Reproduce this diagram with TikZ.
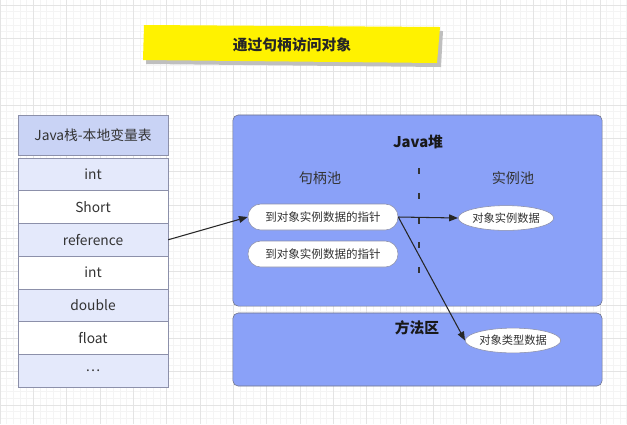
\documentclass[tikz,border=0pt]{standalone}
\usepackage{fontspec}
\setmainfont{Noto Sans CJK SC}
\usepackage{tikz}
\usetikzlibrary{positioning,arrows.meta,shapes.geometric}

\definecolor{heapblue}{RGB}{138,161,248}
\definecolor{rowblue}{RGB}{228,233,251}
\definecolor{headblue}{RGB}{201,211,245}
\definecolor{edgegray}{RGB}{140,144,170}
\definecolor{gridminor}{RGB}{244,244,244}
\definecolor{gridmajor}{RGB}{228,228,228}

\tikzset{
  stackrow/.style={draw=edgegray,minimum width=3.75cm,minimum height=0.8175cm,inner sep=0pt,
    font=\fontsize{9.8}{11}\selectfont,text=black!80},
  area/.style={draw=edgegray!80!black,fill=heapblue,rounded corners=0.13cm,inner sep=0pt,minimum width=9.225cm},
  ptrbox/.style={draw=edgegray,fill=white,rounded corners=0.32cm,minimum width=3.75cm,minimum height=0.65cm,
    inner sep=0pt,font=\fontsize{8.2}{10}\selectfont,text=black!80},
  databox/.style={ellipse,draw=edgegray,fill=white,minimum width=2.2cm,minimum height=0.62cm,inner sep=0pt,
    font=\fontsize{8}{10}\selectfont,text=black!80},
  poolname/.style={font=\fontsize{10}{12}\selectfont,text=black!80},
  areaname/.style={font=\bfseries\fontsize{10.5}{12}\selectfont,text=black!90},
  link/.style={-{Triangle[length=2.2mm,width=1.7mm]},line width=0.75pt,black!85}
}

\begin{document}
\begin{tikzpicture}[x=0.025cm,y=-0.025cm]
  \useasboundingbox (0,0) rectangle (627,424);
  % grid paper
  \fill[white] (0,0) rectangle (627,424);
  \foreach \g in {0,6.667,...,627}{
    \draw[gridminor,line width=0.4pt] (\g,0)--(\g,424);
  }
  \foreach \g in {5,11.667,...,424}{
    \draw[gridminor,line width=0.4pt] (0,\g)--(627,\g);
  }
  \foreach \g in {0,33.333,...,627}{
    \draw[gridmajor,line width=0.5pt] (\g,0)--(\g,424);
  }
  \foreach \g in {5,38.333,...,424}{
    \draw[gridmajor,line width=0.5pt] (0,\g)--(627,\g);
  }

  % title banner
  \fill[black!25] (146,29)--(443,31)--(441,67)--(146,64)--cycle;
  \fill[yellow] (144,25)--(440,27)--(437,63)--(143,60)--cycle;
  \node[font=\bfseries\fontsize{10.5}{12}\selectfont,text=black!85] (title) at (292,45) {通过句柄访问对象};

  % local variable table
  \node[stackrow,fill=headblue,minimum height=1cm] (head) at (93,135) {Java栈-本地变量表};
  \foreach \i/\t/\c in {1/int/rowblue, 2/Short/white, 3/reference/rowblue, 4/int/white,
                        5/double/rowblue, 6/float/white, 7/\ldots/rowblue}{
    \node[stackrow,fill=\c] (row\i) at (93,{158+32.7*(\i-0.5)}) {\t};
  }

  % heap and method area
  \node[area,minimum height=4.775cm] (heap) at (417.5,210.5) {};
  \node[area,minimum height=1.825cm] (method) at (417.5,349.5) {};
  \node[areaname] (heaplbl) at (418,142) {Java堆};
  \node[areaname] (methodlbl) at (417,328) {方法区};
  \node[poolname] (handlepool) at (320,178) {句柄池};
  \node[poolname] (instpool) at (513,178) {实例池};
  \coordinate (cut1) at (419,168);
  \coordinate (cut2) at (419,273);
  \draw[black!80,line width=1.3pt,dash pattern=on 0.15cm off 0.47cm] (cut1)--(cut2);

  \node[ptrbox] (ptr1) at (323,217) {到对象实例数据的指针};
  \node[ptrbox] (ptr2) at (323,254) {到对象实例数据的指针};
  \node[databox] (inst) at (506,218) {对象实例数据};
  \node[databox] (type) at (513,340.5) {对象类型数据};

  \draw[link] (row3.east) -- (ptr1.west);
  \draw[link] (ptr1.east) -- (inst.west);
  \draw[link] (ptr1.east) -- (type.west);
\end{tikzpicture}
\end{document}
